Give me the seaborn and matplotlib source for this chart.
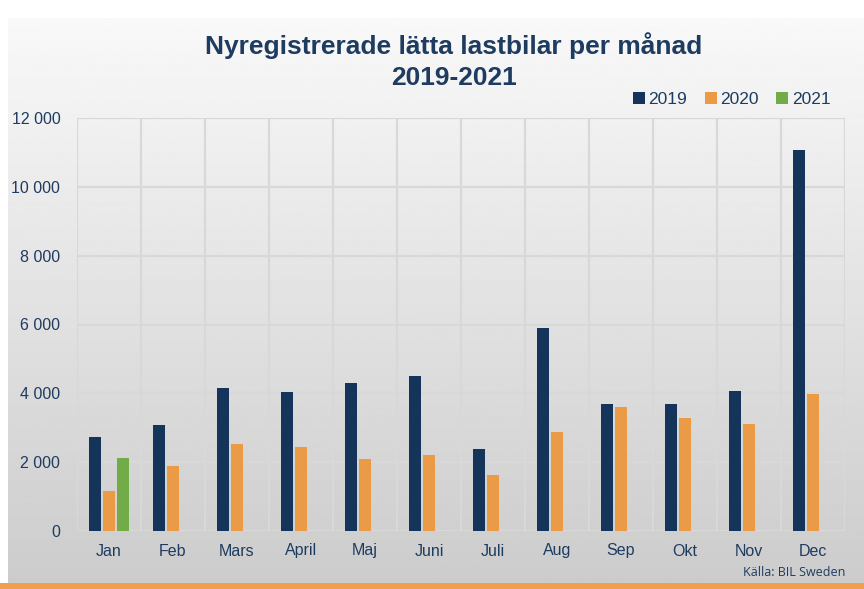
import numpy as np
import pandas as pd
import matplotlib.pyplot as plt
import seaborn as sns

# --- data ---
months = ["Jan", "Feb", "Mars", "April", "Maj", "Juni", "Juli", "Aug", "Sep", "Okt", "Nov", "Dec"]
y2019 = [2730, 3080, 4160, 4040, 4300, 4510, 2390, 5900, 3680, 3690, 4070, 11070]
y2020 = [1160, 1890, 2530, 2440, 2090, 2210, 1630, 2880, 3590, 3290, 3110, 3990]
y2021 = [2120] + [np.nan] * 11
years = ["2019", "2020", "2021"]

df = pd.DataFrame({"month": months * 3,
                   "year": np.repeat(years, len(months)),
                   "value": y2019 + y2020 + y2021})

navy = "#14345A"
colors = {"2019": navy, "2020": "#EB9A45", "2021": "#71AC48"}
text_col = "#1E3B60"

sns.set_style("white")
plt.rcParams['font.family'] = ['Liberation Sans', 'DejaVu Sans']

fig = plt.figure(figsize=(8.64, 5.89), dpi=100)

# gradient backdrop
bg = fig.add_axes([8 / 864, 6 / 589, 1 - 8 / 864, (583 - 18) / 589], zorder=-2)
grad = np.linspace(0.975, 0.80, 256).reshape(-1, 1)
bg.imshow(grad, aspect="auto", cmap="gray", vmin=0, vmax=1, extent=[0, 1, 0, 1])
bg.axis("off")
# orange strip at bottom
strip = fig.add_axes([0, 0, 1, 6 / 589], zorder=-1)
strip.set_facecolor("#F0A04B")
strip.set_xticks([]); strip.set_yticks([])
for s in strip.spines.values():
    s.set_visible(False)

ax = fig.add_axes([77 / 864, (589 - 531) / 589, (845 - 77) / 864, (531 - 118) / 589])
ax.patch.set_alpha(0)

sns.barplot(data=df, x="month", y="value", hue="year", palette=colors, saturation=1,
            width=0.66, gap=0.14, ax=ax, edgecolor="none", linewidth=0, zorder=3)

ax.set_ylim(0, 12000)
ax.set_xlim(-0.5, 11.5)
ax.set_yticks(range(0, 12001, 2000))
ax.set_yticklabels([f"{v:,}".replace(",", " ") for v in range(0, 12001, 2000)])
ax.set_xticks(range(12), months)
ax.set_xticks(np.arange(-0.5, 12, 1), minor=True)
ax.grid(True, which="minor", axis="x", color="#D8D8D8", linewidth=1.6, zorder=0)
ax.grid(True, which="major", axis="y", color="#D8D8D8", linewidth=1.6, zorder=0)
ax.grid(False, which="major", axis="x")
ax.tick_params(axis="both", which="both", length=0, colors=text_col, labelsize=11.5)
ax.tick_params(axis="x", pad=9)
ax.tick_params(axis="y", pad=12)
ax.set_xlabel("")
ax.set_ylabel("")
for s in ax.spines.values():
    s.set_visible(False)

ax.legend(loc="lower right", bbox_to_anchor=(0.99, 1.01), ncol=3, frameon=False,
          handlelength=0.7, handleheight=0.7, handletextpad=0.2, columnspacing=1.0,
          fontsize=12.5, labelcolor=text_col, borderaxespad=0)

fig.text(0.525, 0.945, "Nyregistrerade lätta lastbilar per månad\n2019-2021",
         ha="center", va="top", fontsize=19, fontweight="bold", color=text_col,
         linespacing=1.35)
fig.text(845 / 864, (589 - 572) / 589, "Källa: BIL Sweden", ha="right", va="center",
         fontsize=9, color=text_col, family=['Open Sans', 'DejaVu Sans'])

fig.savefig("out.png", dpi=100)
